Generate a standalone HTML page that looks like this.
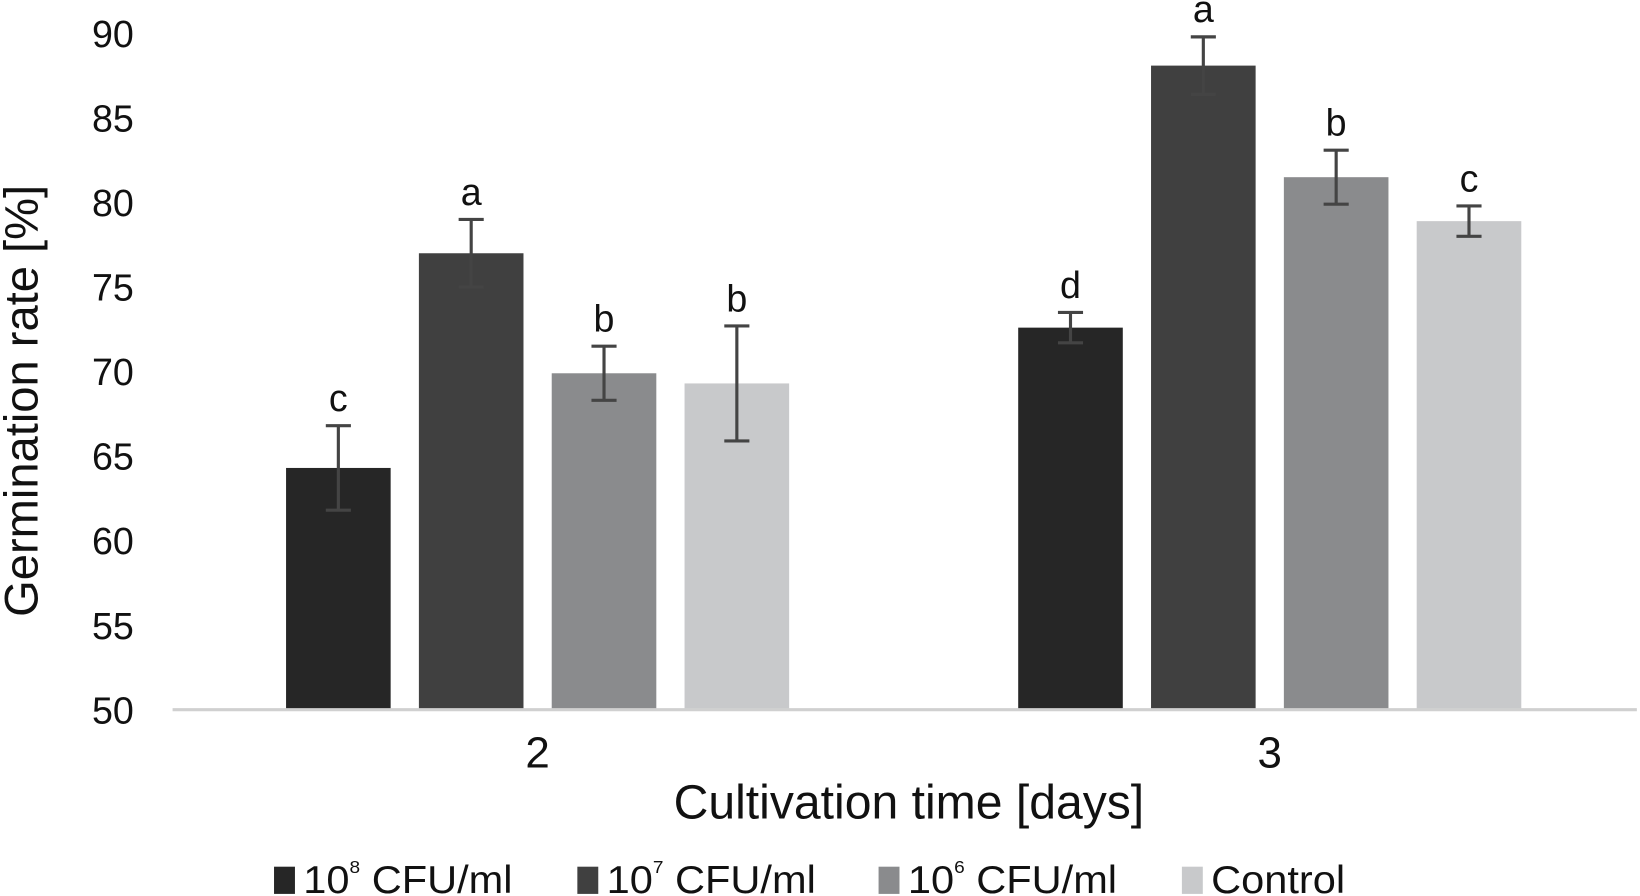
<!DOCTYPE html>
<html><head><meta charset="utf-8"><style>
html,body{margin:0;padding:0;background:#fff;}
svg{display:block;font-family:"Liberation Sans",Arial,sans-serif;}
</style></head><body>
<svg id="chart" width="1640" height="896" viewBox="0 0 1568 856" preserveAspectRatio="none" xmlns="http://www.w3.org/2000/svg">
<g id="yticks"></g>
<g id="bars"></g>
<line x1="165" y1="678" x2="1565" y2="678" stroke="#d0d0d0" stroke-width="3"/>
<g id="xticks"></g>
<text transform="translate(36,383) rotate(-90)" text-anchor="middle" font-size="45" fill="#111">Germination rate [%]</text>
<text x="869" y="782" text-anchor="middle" font-size="46" fill="#111">Cultivation time [days]</text>
<g id="legend"></g>
</svg>
<script>
const categories=["2","3"];
const seriesNames=["10^8 CFU/ml","10^7 CFU/ml","10^6 CFU/ml","Control"];
const s1=[64.3,72.6];
const s2=[77.0,88.1];
const s3=[69.9,81.5];
const s4=[69.3,78.9];
const e1=[2.5,0.9];
const e2=[2.0,1.7];
const e3=[1.6,1.6];
const e4=[3.4,0.9];
const l1=["c","d"];
const l2=["a","a"];
const l3=["b","b"];
const l4=["b","c"];
const yTicks=[50,55,60,65,70,75,80,85,90];
const colors=["#262626","#404040","#8a8b8d","#c8c9cb"];
const series=[s1,s2,s3,s4],errs=[e1,e2,e3,e4],lets=[l1,l2,l3,l4];
const NS="http://www.w3.org/2000/svg";
function y(v){return 678-(v-50)*(646/40);}
function xc(i){return 165+700*i+349;}
function mk(t,a,p,txt){const e=document.createElementNS(NS,t);for(const k in a)e.setAttribute(k,a[k]);if(txt!==undefined)e.textContent=txt;p.appendChild(e);return e;}
const yt=document.getElementById('yticks');
yTicks.forEach(v=>{const t=mk('text',{x:128,y:y(v)+13,'text-anchor':'end','font-size':36,fill:'#111'},yt,String(v));

});
const xt=document.getElementById('xticks');
categories.forEach((c,i)=>{const t=mk('text',{x:xc(i),y:733,'text-anchor':'middle','font-size':42,fill:'#111'},xt,c);

});
const bg=document.getElementById('bars');
categories.forEach((c,i)=>{series.forEach((s,j)=>{
const cx=xc(i)+(j-1.5)*127;const v=s[i];
const r=mk('rect',{x:cx-50,y:y(v),width:100,height:678-y(v),fill:colors[j]},bg);


const e=errs[j][i];const g=mk('g',{stroke:'#444','stroke-width':3},bg);


mk('line',{x1:cx,x2:cx,y1:y(v+e),y2:y(v-e)},g);
mk('line',{x1:cx-12,x2:cx+12,y1:y(v+e),y2:y(v+e)},g);
mk('line',{x1:cx-12,x2:cx+12,y1:y(v-e),y2:y(v-e)},g);
const lt=mk('text',{x:cx,y:y(v+e)-14,'text-anchor':'middle','font-size':36,fill:'#111'},bg,lets[j][i]);


});});
const lg=document.getElementById('legend');
const lx=[262,552,840,1130];
const sups=["8","7","6",""];
seriesNames.forEach((n,j)=>{const g=mk('g',{},lg);


mk('rect',{x:lx[j],y:828,width:20,height:26,fill:colors[j]},g);
const t=mk('text',{x:lx[j]+28,y:853,'font-size':37,fill:'#111',textLength:j<3?200:128,lengthAdjust:'spacingAndGlyphs'},g);
if(sups[j]){t.appendChild(document.createTextNode('10'));
mk('tspan',{'font-size':17,dy:-19},t,sups[j]);
mk('tspan',{dy:19},t,' CFU/ml');}
else t.textContent='Control';
});
</script>
</body></html>
